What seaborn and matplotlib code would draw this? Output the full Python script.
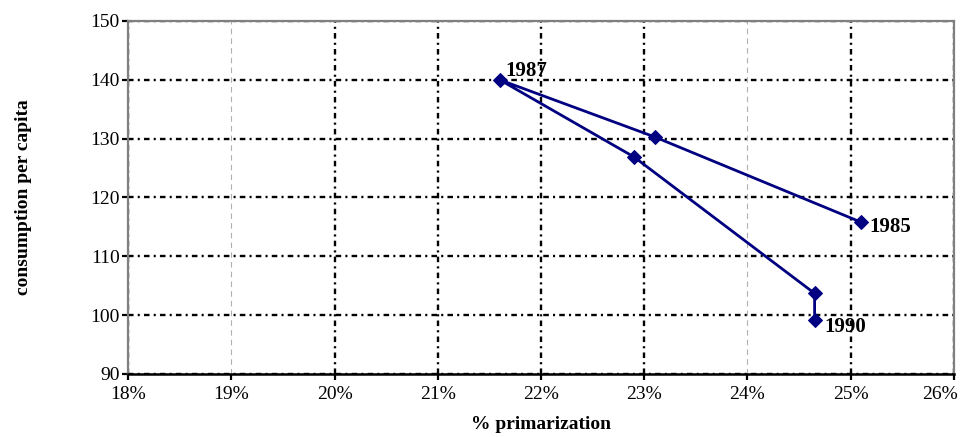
import matplotlib
matplotlib.use('Agg')
import matplotlib.pyplot as plt
import matplotlib.transforms as mtransforms
import seaborn as sns
import pandas as pd
from matplotlib.ticker import PercentFormatter

# values
years = [1985, 1986, 1987, 1988, 1989, 1990]
primarization = [25.1, 23.1, 21.6, 22.9, 24.65, 24.65]
consumption = [115.8, 130.3, 140.0, 126.9, 103.7, 99.1]
labelled_years = [1985, 1987, 1990]
x_ticks = [18, 19, 20, 21, 22, 23, 24, 25, 26]
y_ticks = [90, 100, 110, 120, 130, 140, 150]

df = pd.DataFrame({'year': years, 'primarization': primarization, 'consumption': consumption})

sns.set_style('white')
plt.rcParams['font.family'] = ['Liberation Serif', 'DejaVu Serif']
plt.rcParams['lines.scale_dashes'] = False

fig = plt.figure(figsize=(9.61, 4.37), dpi=100)
ax = fig.add_axes([0.1332, 0.1442, 0.8595, 0.8078])

sns.lineplot(
    data=df,
    x='primarization',
    y='consumption',
    sort=False,
    estimator=None,
    marker='D',
    markersize=7,
    color='#000080',
    markeredgecolor='#000080',
    linewidth=2,
    ax=ax,
    zorder=5,
)

ax.set_xlim(18, 26)
ax.set_ylim(90, 150)
ax.set_xticks(x_ticks)
ax.set_yticks(y_ticks)
ax.xaxis.set_major_formatter(PercentFormatter(100, decimals=0))

ax.grid(True, color='black', linestyle=(0, (4, 3, 1.5, 3)), linewidth=1.7)
ax.set_axisbelow(True)
# two of the vertical gridlines are faint grey in the source
xgl = ax.get_xgridlines()
for i in (1, 6):
    xgl[i].set_color('#b0b0b0')
    xgl[i].set_linewidth(0.8)
    xgl[i].set_linestyle((0, (4, 3)))

for side in ('left', 'top', 'right'):
    ax.spines[side].set_color('#808080')
    ax.spines[side].set_linewidth(1.6)
ax.spines['bottom'].set_color('black')
ax.spines['bottom'].set_linewidth(1.8)

ax.tick_params(axis='both', which='major', direction='out', length=4.3, width=1.6,
               color='black', labelcolor='black', labelsize=14)
ax.tick_params(axis='x', bottom=True, pad=4)
ax.tick_params(axis='y', left=True, pad=1.5)

# last x label sits inside the figure edge, as in the source
fig.canvas.draw()
last = ax.get_xticklabels()[-1]
last.set_ha('right')
last.set_transform(last.get_transform() + mtransforms.ScaledTranslation(4 / 100, 0, fig.dpi_scale_trans))

ax.set_xlabel('% primarization', fontsize=14, fontweight='bold', color='black')
ax.set_ylabel('consumption per capita', fontsize=14, fontweight='bold', color='black')
ax.xaxis.set_label_coords(0.5, -0.12)
ax.yaxis.set_label_coords(-0.116, 0.5)

offsets = {1985: (6, -7), 1987: (4, 3), 1990: (7, -8)}
for yr, xv, yv in zip(years, primarization, consumption):
    if yr in labelled_years:
        ax.annotate(str(yr), (xv, yv), xytext=offsets[yr], textcoords='offset points',
                    fontsize=15, fontweight='bold', color='black')

plt.savefig('out.png', dpi=100)
